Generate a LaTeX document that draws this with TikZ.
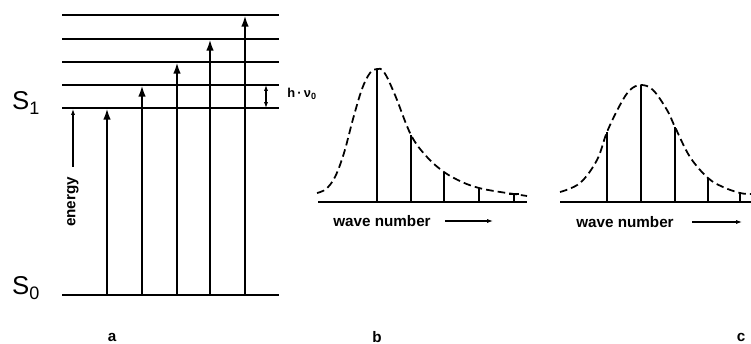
\documentclass[tikz,border=0pt]{standalone}
\usepackage{fontspec}
\setmainfont{Liberation Sans}
\usetikzlibrary{arrows.meta, positioning}

\tikzset{
  level/.style={line width=1.6pt},
  excite/.style={line width=2pt, -{Latex[length=10pt,width=6.5pt]}},
  thinarr/.style={line width=0.9pt, -{Latex[length=5pt,width=3.5pt]}},
  curve/.style={line width=1.5pt, dash pattern=on 6.5pt off 3.5pt},
  band/.style={line width=2pt},
  base/.style={line width=1.9pt},
  lbl/.style={font=\fontsize{13}{15}\selectfont\bfseries, inner sep=0pt},
  state/.style={font=\fontsize{22}{26}\selectfont, inner sep=0pt},
}

\begin{document}
\begin{tikzpicture}[x=0.03cm, y=-0.03cm]
    \useasboundingbox (0,0) rectangle (751,344);

    % (a) vibrational levels of S1 and ground level S0
    \foreach \y [count=\i] in {108,85,62,39,15} {
        \coordinate (lw\i) at (62,\y);
        \coordinate (le\i) at (279,\y);
        \draw[level] (lw\i) -- (le\i);
    }
    \coordinate (g0w) at (62,295);
    \coordinate (g0e) at (279,295);
    \draw[level] (g0w) -- (g0e);

    % absorption transitions
    \foreach \x/\y [count=\i] in {107/108,142/85,177/62,210/39,245/15} {
        \coordinate (dn\i) at (\x,295);
        \coordinate (up\i) at (\x,\y);
        \draw[excite] (dn\i) -- (up\i);
    }

    % spacing h nu0
    \coordinate (hvlo) at (266,108);
    \coordinate (hvhi) at (266,85);
    \draw[thinarr, {Latex[length=5pt,width=3.5pt]}-{Latex[length=5pt,width=3.5pt]}] (hvlo) -- (hvhi);
    \node[font=\fontsize{11}{13}\selectfont\bfseries, inner sep=0pt] (hnu) at (302,94) {h\,·\,ν\textsubscript{0}};

    % energy axis
    \coordinate (ena) at (73,167);
    \coordinate (enb) at (73,109);
    \draw[thinarr] (ena) -- (enb);
    \node[lbl, rotate=90] (energy) at (73,202) {energy};

    \node[state] (s1) at (26,103) {S\textsubscript{1}};
    \node[state] (s0) at (26,288) {S\textsubscript{0}};

    % (b) asymmetric band
    \coordinate (bl) at (318,202);
    \coordinate (br) at (527,202);
    \draw[base] (bl) -- (br);
    \draw[curve] plot[smooth, tension=0.6] coordinates {
        (317,193) (326,189) (335,177) (344,153) (353,119) (362,89) (370,73) (377,69)
        (384,72) (395,95) (411,135) (427,157) (444,172) (462,182)
        (479,188) (497,191.5) (514,194) (527,196)};
    \foreach \x/\y [count=\i] in {377/69,411/135,444/172,479/188,514/194} {
        \coordinate (bb\i) at (\x,202);
        \coordinate (bt\i) at (\x,\y);
        \draw[band] (bb\i) -- (bt\i);
    }
    \draw[line width=1.2pt] ([xshift=-4]bt5) -- ([xshift=4]bt5);

    \node[lbl] (wnb) at (382,221) {wave number};
    \coordinate (wbs) at (445,221);
    \coordinate (wbe) at (493,221);
    \draw[thinarr] (wbs) -- (wbe);

    % (c) symmetric band
    \coordinate (cl) at (560,202);
    \coordinate (cr) at (751,202);
    \draw[base] (cl) -- (cr);
    \draw[curve] plot[smooth, tension=0.6] coordinates {
        (560,192) (580,183) (597,160) (607,132) (620,105) (630,90) (641,85)
        (653,90) (667,110) (675,127) (690,157) (708,178) (723,187)
        (740,193) (751,194)};
    \foreach \x/\y [count=\i] in {607/132,641/85,675/127,708/178,740/193} {
        \coordinate (cb\i) at (\x,202);
        \coordinate (ct\i) at (\x,\y);
        \draw[band] (cb\i) -- (ct\i);
    }

    \node[lbl] (wnc) at (625,222) {wave number};
    \coordinate (wcs) at (692,222);
    \coordinate (wce) at (742,222);
    \draw[thinarr] (wcs) -- (wce);

    % panel letters
    \node[lbl] (pa) at (112,337) {a};
    \node[lbl] (pb) at (377,337) {b};
    \node[lbl] (pc) at (741,337) {c};
\end{tikzpicture}
\end{document}
